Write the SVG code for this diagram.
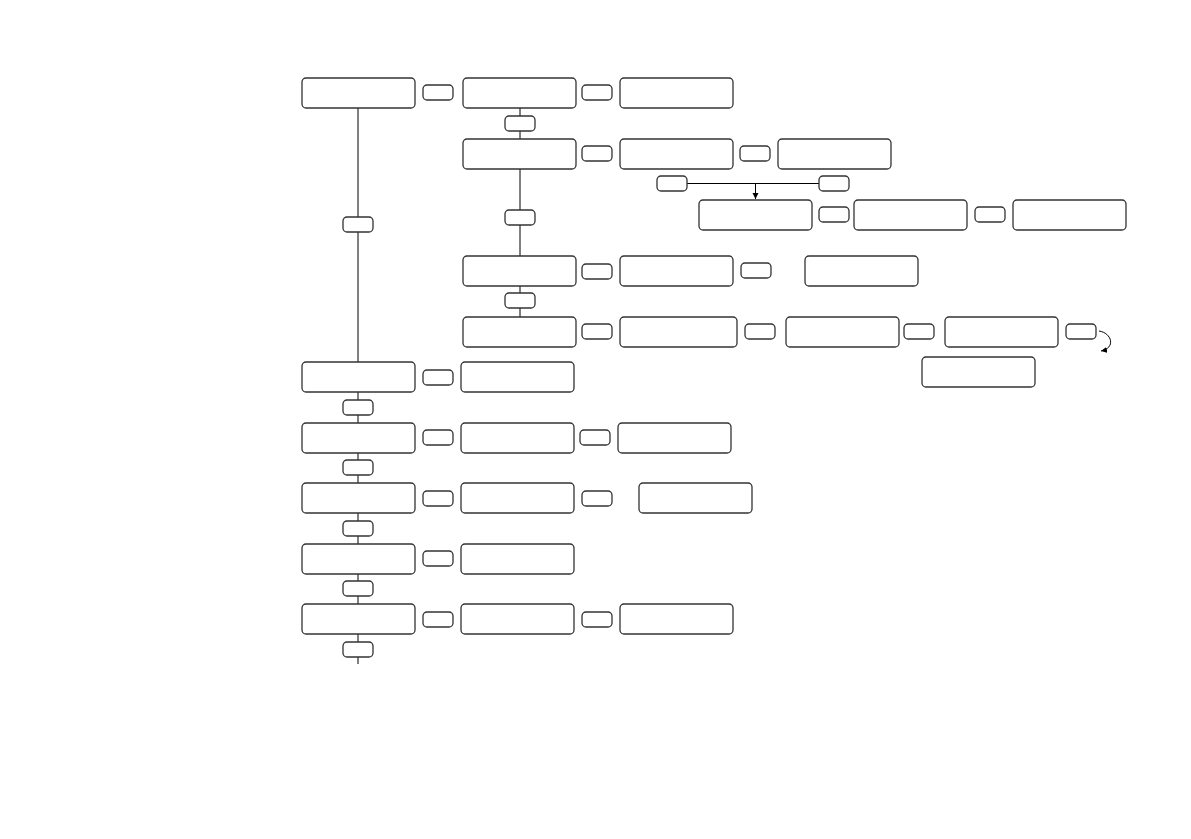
<svg xmlns="http://www.w3.org/2000/svg" width="1191" height="839" viewBox="0 0 1191 839">
<style>
.n rect{fill:#fff;stroke:#333;stroke-width:1.3}
.c{fill:none;stroke:#000;stroke-width:1}
</style>
<defs>
<marker id="ah" markerWidth="8" markerHeight="8" refX="6" refY="3" orient="auto" markerUnits="userSpaceOnUse">
<path d="M0,0 L6,3 L0,6 Z" fill="#000"/>
</marker>
<symbol id="L"><rect x="0.65" y="0.65" width="113" height="30" rx="4"/></symbol>
</defs>
<rect width="1191" height="839" fill="#fff"/>
<g id="connectors">
<line class="c" x1="358" y1="108" x2="358" y2="664"/>
<line class="c" x1="520" y1="108" x2="520" y2="317"/>
<line class="c" x1="687" y1="183.5" x2="819" y2="183.5"/>
<line class="c" x1="755.5" y1="183.5" x2="755.5" y2="199" marker-end="url(#ah)"/>
<path class="c" d="M1099,331 C1112,333 1116,348 1101,351" marker-end="url(#ah)"/>
</g>
<g class="n">
<g id="A1"><rect x="302" y="78" width="113" height="30" rx="4"/></g>
<g id="B1"><rect x="463" y="78" width="113" height="30" rx="4"/></g>
<g id="C1"><rect x="620" y="78" width="113" height="30" rx="4"/></g>
<g id="B2"><rect x="463" y="139" width="113" height="30" rx="4"/></g>
<g id="C2"><rect x="620" y="139" width="113" height="30" rx="4"/></g>
<g id="D2"><rect x="778" y="139" width="113" height="30" rx="4"/></g>
<g id="E1"><rect x="699" y="200" width="113" height="30" rx="4"/></g>
<g id="E2"><rect x="854" y="200" width="113" height="30" rx="4"/></g>
<g id="E3"><rect x="1013" y="200" width="113" height="30" rx="4"/></g>
<g id="B3"><rect x="463" y="256" width="113" height="30" rx="4"/></g>
<g id="C3"><rect x="620" y="256" width="113" height="30" rx="4"/></g>
<g id="D3"><rect x="805" y="256" width="113" height="30" rx="4"/></g>
<g id="B4"><rect x="463" y="317" width="113" height="30" rx="4"/></g>
<g id="C4"><rect x="620" y="317" width="117" height="30" rx="4"/></g>
<g id="D4"><rect x="786" y="317" width="113" height="30" rx="4"/></g>
<g id="E4"><rect x="945" y="317" width="113" height="30" rx="4"/></g>
<g id="F4"><rect x="922" y="357" width="113" height="30" rx="4"/></g>
<g id="A5"><rect x="302" y="362" width="113" height="30" rx="4"/></g>
<g id="B5"><rect x="461" y="362" width="113" height="30" rx="4"/></g>
<g id="A6"><rect x="302" y="423" width="113" height="30" rx="4"/></g>
<g id="B6"><rect x="461" y="423" width="113" height="30" rx="4"/></g>
<g id="C6"><rect x="618" y="423" width="113" height="30" rx="4"/></g>
<g id="A7"><rect x="302" y="483" width="113" height="30" rx="4"/></g>
<g id="B7"><rect x="461" y="483" width="113" height="30" rx="4"/></g>
<g id="C7"><rect x="639" y="483" width="113" height="30" rx="4"/></g>
<g id="A8"><rect x="302" y="544" width="113" height="30" rx="4"/></g>
<g id="B8"><rect x="461" y="544" width="113" height="30" rx="4"/></g>
<g id="A9"><rect x="302" y="604" width="113" height="30" rx="4"/></g>
<g id="B9"><rect x="461" y="604" width="113" height="30" rx="4"/></g>
<g id="C9"><rect x="620" y="604" width="113" height="30" rx="4"/></g>

<g id="s1"><rect x="423" y="85" width="30" height="15" rx="4"/></g>
<g id="s2"><rect x="582" y="85" width="30" height="15" rx="4"/></g>
<g id="s3"><rect x="505" y="116" width="30" height="15" rx="4"/></g>
<g id="s4"><rect x="582" y="146" width="30" height="15" rx="4"/></g>
<g id="s5"><rect x="740" y="146" width="30" height="15" rx="4"/></g>
<g id="s6"><rect x="657" y="176" width="30" height="15" rx="4"/></g>
<g id="s7"><rect x="819" y="176" width="30" height="15" rx="4"/></g>
<g id="s8"><rect x="505" y="210" width="30" height="15" rx="4"/></g>
<g id="s9"><rect x="343" y="217" width="30" height="15" rx="4"/></g>
<g id="s10"><rect x="819" y="207" width="30" height="15" rx="4"/></g>
<g id="s11"><rect x="975" y="207" width="30" height="15" rx="4"/></g>
<g id="s12"><rect x="582" y="264" width="30" height="15" rx="4"/></g>
<g id="s13"><rect x="741" y="263" width="30" height="15" rx="4"/></g>
<g id="s14"><rect x="505" y="293" width="30" height="15" rx="4"/></g>
<g id="s15"><rect x="582" y="324" width="30" height="15" rx="4"/></g>
<g id="s16"><rect x="745" y="324" width="30" height="15" rx="4"/></g>
<g id="s17"><rect x="904" y="324" width="30" height="15" rx="4"/></g>
<g id="s18"><rect x="1066" y="324" width="30" height="15" rx="4"/></g>
<g id="s19"><rect x="423" y="370" width="30" height="15" rx="4"/></g>
<g id="s20"><rect x="343" y="400" width="30" height="15" rx="4"/></g>
<g id="s21"><rect x="423" y="430" width="30" height="15" rx="4"/></g>
<g id="s22"><rect x="580" y="430" width="30" height="15" rx="4"/></g>
<g id="s23"><rect x="343" y="460" width="30" height="15" rx="4"/></g>
<g id="s24"><rect x="423" y="491" width="30" height="15" rx="4"/></g>
<g id="s25"><rect x="582" y="491" width="30" height="15" rx="4"/></g>
<g id="s26"><rect x="343" y="521" width="30" height="15" rx="4"/></g>
<g id="s27"><rect x="423" y="551" width="30" height="15" rx="4"/></g>
<g id="s28"><rect x="343" y="581" width="30" height="15" rx="4"/></g>
<g id="s29"><rect x="423" y="612" width="30" height="15" rx="4"/></g>
<g id="s30"><rect x="582" y="612" width="30" height="15" rx="4"/></g>
<g id="s31"><rect x="343" y="642" width="30" height="15" rx="4"/></g>
</g>
</svg>
